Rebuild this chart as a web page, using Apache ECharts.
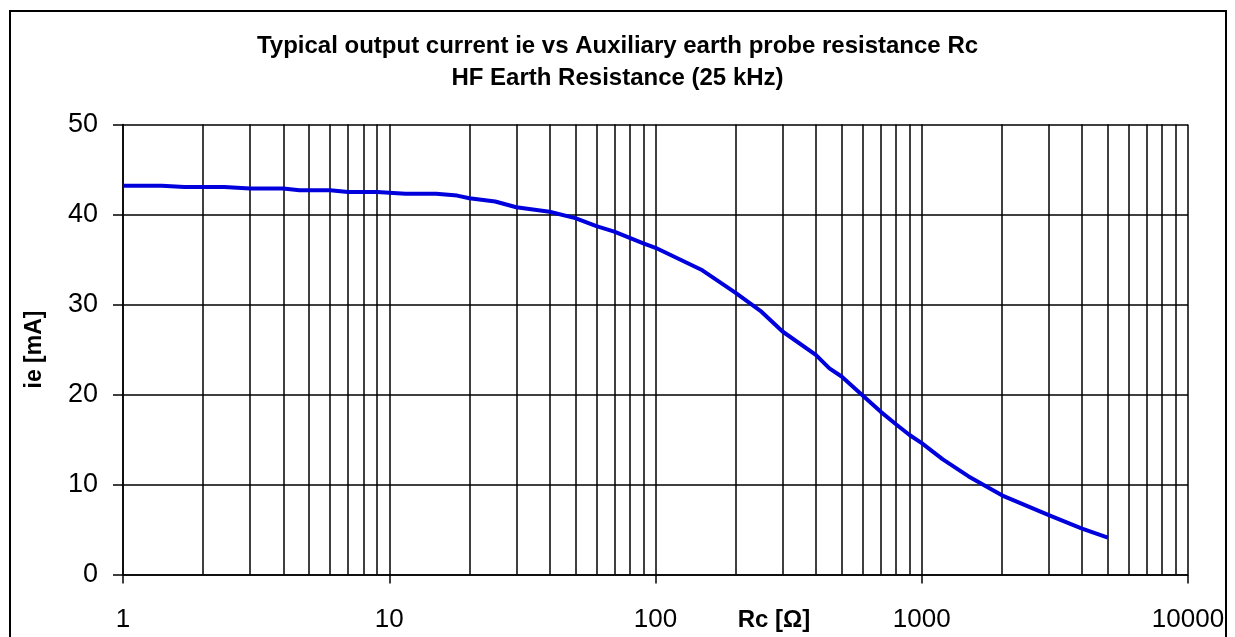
<!DOCTYPE html>
<html>
<head>
<meta charset="utf-8">
<script src="https://cdn.jsdelivr.net/npm/echarts@6/dist/echarts.min.js"></script>
<style>
html,body{margin:0;padding:0;background:#fff;}
#c{width:1235px;height:637px;}
</style>
</head>
<body>
<div id="c"></div>
<script>
const titleLines = ['Typical output current ie vs Auxiliary earth probe resistance Rc', 'HF Earth Resistance (25 kHz)'];
const xName = 'Rc [Ω]';
const yName = 'ie [mA]';
const rc = [1, 1.4, 1.7, 2.4, 3, 4, 4.6, 6, 7, 9, 11.5, 15, 18, 20, 25, 30, 40, 50, 60, 70, 80, 90, 100, 150, 200, 250, 300, 400, 450, 500, 600, 700, 800, 900, 1000, 1200, 1500, 2000, 3000, 4000, 5000];
const ie = [43.2, 43.2, 43.05, 43.05, 42.9, 42.9, 42.7, 42.7, 42.5, 42.5, 42.3, 42.3, 42.1, 41.8, 41.45, 40.8, 40.3, 39.6, 38.7, 38.1, 37.4, 36.8, 36.3, 33.8, 31.3, 29.2, 27.0, 24.4, 22.9, 22.0, 19.9, 18.1, 16.7, 15.5, 14.6, 12.8, 10.9, 8.8, 6.6, 5.1, 4.1];
const minorGrid = [2,3,4,5,6,7,8,9, 20,30,40,50,60,70,80,90, 200,300,400,500,600,700,800,900, 2000,3000,4000,5000,6000,7000,8000,9000];

const chart = echarts.init(document.getElementById('c'));
chart.setOption({
  animation: false,
  backgroundColor: '#fff',
  title: {
    text: titleLines.join('\n'),
    left: 'center',
    top: 25,
    textStyle: {fontFamily: 'Liberation Sans', fontWeight: 'bold', fontSize: 24, lineHeight: 32, color: '#000'}
  },
  graphic: [
    {type: 'rect', shape: {x: 10, y: 11, width: 1216, height: 640}, style: {fill: 'none', stroke: '#000', lineWidth: 2}, z: 100},
    {type: 'text', x: 774, y: 620, style: {text: xName, fontFamily: 'Liberation Sans', fontWeight: 'bold', fontSize: 24, fill: '#000', textAlign: 'center', textVerticalAlign: 'middle'}}
  ],
  grid: {left: 123, right: 47, top: 124.5, bottom: 62.5, containLabel: false},
  xAxis: {
    type: 'log', logBase: 10, min: 1, max: 10000,
    axisLine: {show: true, onZero: false, lineStyle: {color: '#000', width: 1.5}},
    axisTick: {show: true, length: 9, lineStyle: {color: '#000', width: 1.5}},
    axisLabel: {fontFamily: 'Liberation Sans', fontSize: 26, color: '#000', margin: 32, formatter: v => String(Math.round(v))},
    splitLine: {show: true, lineStyle: {color: '#000', width: 1.5}},
    minorTick: {show: false}
  },
  yAxis: {
    type: 'value', min: 0, max: 50, interval: 10,
    name: yName, nameLocation: 'middle', nameGap: 77, nameRotate: 90,
    nameTextStyle: {fontFamily: 'Liberation Sans', fontWeight: 'bold', fontSize: 23, color: '#000'},
    axisLine: {show: true, lineStyle: {color: '#000', width: 1.5}},
    axisTick: {show: true, length: 10, lineStyle: {color: '#000', width: 1.5}},
    axisLabel: {fontFamily: 'Liberation Sans', fontSize: 27, color: '#000', margin: 25},
    splitLine: {show: true, lineStyle: {color: '#000', width: 1.5}}
  },
  series: [{
    type: 'line',
    data: rc.map((x, i) => [x, ie[i]]),
    showSymbol: false,
    smooth: false,
    lineStyle: {color: '#0000dc', width: 4},
    z: 10,
    markLine: {
      silent: true,
      symbol: ['none', 'none'],
      label: {show: false},
      animation: false,
      lineStyle: {color: '#000', width: 1.5, type: 'solid'},
      data: minorGrid.map(v => ({xAxis: v}))
    }
  }]
});
</script>
</body>
</html>
